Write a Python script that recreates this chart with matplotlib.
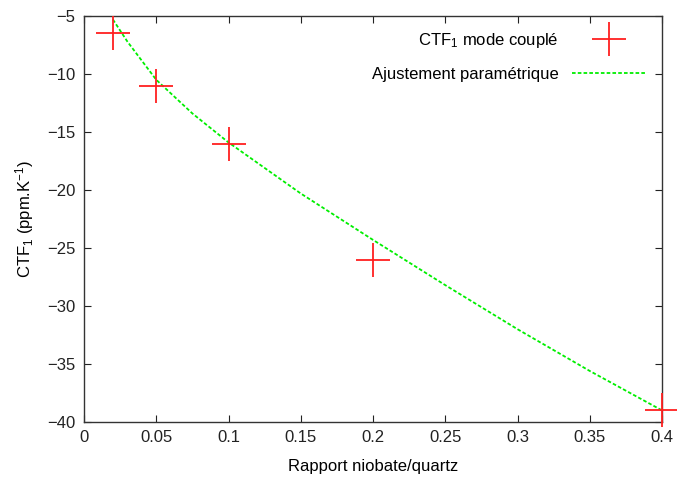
import matplotlib
matplotlib.use('Agg')
import matplotlib.pyplot as plt

plt.rcParams['font.family'] = ['Liberation Sans', 'DejaVu Sans']
plt.rcParams['mathtext.fontset'] = 'custom'
plt.rcParams['mathtext.rm'] = 'Liberation Sans'
plt.rcParams['mathtext.it'] = 'Liberation Sans'

# measured points
ratio = [0.02, 0.05, 0.1, 0.2, 0.4]
ctf = [-6.5, -11, -16, -26, -39]

# fitted curve
fit_x = [0.02, 0.03, 0.05, 0.075, 0.1, 0.15, 0.2, 0.25, 0.3, 0.35, 0.4]
fit_y = [-5.3, -7.2, -10.5, -13.4, -15.9, -20.3, -24.3, -28.2, -32.0, -35.6, -39.0]

fig = plt.figure(figsize=(6.77, 4.78), dpi=100)
ax = fig.add_axes([84 / 677, 1 - 422 / 478, (662 - 84) / 677, (422 - 16) / 478])

ax.plot(ratio, ctf, linestyle='none', marker='+', markersize=24,
        markeredgewidth=1.3, color='#ff2020', label='CTF$_1$ mode couplé',
        clip_on=False, zorder=3)
ax.plot(fit_x, fit_y, linestyle=(0, (2, 1.2)), color='#00ee00', lw=1.3,
        label='Ajustement paramétrique', zorder=2)

ax.set_xlim(0, 0.4)
ax.set_ylim(-40, -5)
ax.set_xticks([0, 0.05, 0.1, 0.15, 0.2, 0.25, 0.3, 0.35, 0.4])
ax.set_xticklabels(['0', '0.05', '0.1', '0.15', '0.2', '0.25', '0.3', '0.35', '0.4'])
ax.set_yticks(range(-40, -4, 5))
ax.tick_params(direction='in', top=True, right=True, length=5, width=0.8,
               labelsize=12, colors='#222222', pad=6)
for s in ax.spines.values():
    s.set_color('#333333')
    s.set_linewidth(1.0)

ax.set_xlabel('Rapport niobate/quartz', fontsize=12, labelpad=10)
ax.set_ylabel('CTF$_1$ (ppm.K$^{-1}$)', fontsize=12, labelpad=8)

leg = ax.legend(loc='upper right', frameon=False, markerfirst=False,
                fontsize=12, handlelength=4.5, labelspacing=1.0,
                borderaxespad=0.5, handletextpad=0.8)

fig.savefig('out.png', dpi=100)
